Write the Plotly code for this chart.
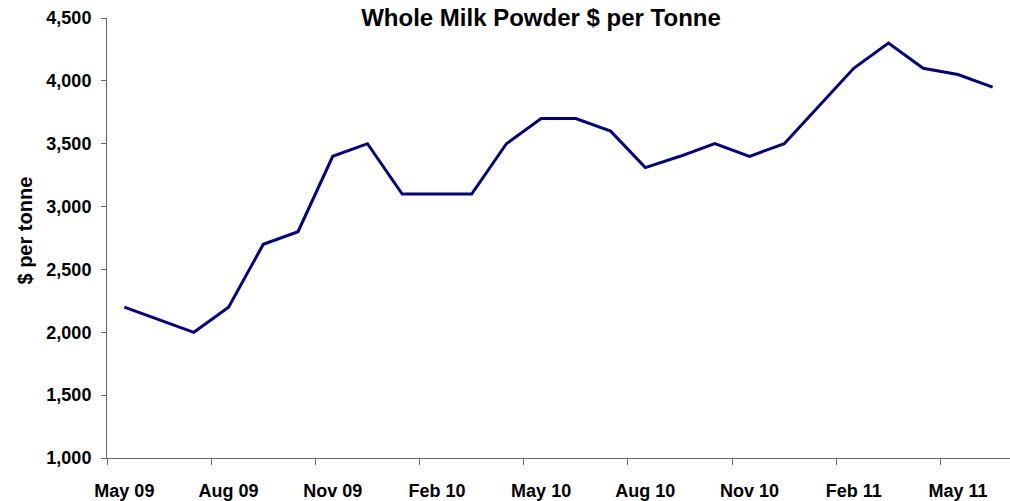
import plotly.graph_objects as go

# Monthly whole milk powder prices, May 2009 - Jun 2011
months = ["May 09", "Jun 09", "Jul 09", "Aug 09", "Sep 09", "Oct 09", "Nov 09",
          "Dec 09", "Jan 10", "Feb 10", "Mar 10", "Apr 10", "May 10", "Jun 10",
          "Jul 10", "Aug 10", "Sep 10", "Oct 10", "Nov 10", "Dec 10", "Jan 11",
          "Feb 11", "Mar 11", "Apr 11", "May 11", "Jun 11"]
price = [2200, 2100, 2000, 2200, 2700, 2800, 3400, 3500, 3100, 3100, 3100,
         3500, 3700, 3700, 3600, 3310, 3400, 3500, 3400, 3500, 3800, 4100,
         4300, 4100, 4050, 3950]

y_ticks = [1000, 1500, 2000, 2500, 3000, 3500, 4000, 4500]

idx = list(range(len(months)))
label_idx = idx[::3]
boundaries = [i - 0.5 for i in label_idx]

font_family = "Liberation Sans, Arial, sans-serif"

fig = go.Figure()
fig.add_trace(go.Scatter(
    x=idx, y=price, mode="lines",
    line=dict(color="#000080", width=3),
    hoverinfo="skip", showlegend=False,
))

fig.update_layout(
    width=1010, height=501,
    margin=dict(l=107, r=0, t=18, b=41),
    paper_bgcolor="white", plot_bgcolor="white",
    font=dict(family=font_family, color="black"),
    title=dict(
        text="<b>Whole Milk Powder $ per Tonne</b>",
        x=541 / 1010, xanchor="center", xref="container",
        y=1 - 18 / 501, yanchor="middle", yref="container",
        font=dict(size=24, family=font_family, color="black"),
    ),
    xaxis=dict(
        range=[-0.5, len(months) - 0.5],
        tickmode="array", tickvals=label_idx,
        ticktext=[f"<b>{months[i]}</b>" for i in label_idx],
        ticks="", ticklabelstandoff=16,
        tickfont=dict(size=18),
        showgrid=False, zeroline=False,
        showline=True, linecolor="#666666", linewidth=1,
        minor=dict(tickmode="array", tickvals=boundaries, ticks="outside",
                   ticklen=6, tickcolor="#666666", tickwidth=1, showgrid=False),
    ),
    yaxis=dict(
        range=[1000, 4500],
        tickmode="array", tickvals=y_ticks,
        ticktext=[f"<b>{v:,}</b>" for v in y_ticks],
        ticks="outside", ticklen=5, tickcolor="#666666",
        ticklabelstandoff=6,
        tickfont=dict(size=18),
        showgrid=False, zeroline=False,
        showline=True, linecolor="#666666", linewidth=1,
    ),
    annotations=[dict(
        text="<b>$ per tonne</b>", textangle=-90,
        xref="paper", yref="paper",
        x=(25.5 - 107) / 903, y=(460 - 232) / 442,
        xanchor="center", yanchor="middle", showarrow=False,
        font=dict(size=20, family=font_family, color="black"),
    )],
)

fig.write_html("out.html")
